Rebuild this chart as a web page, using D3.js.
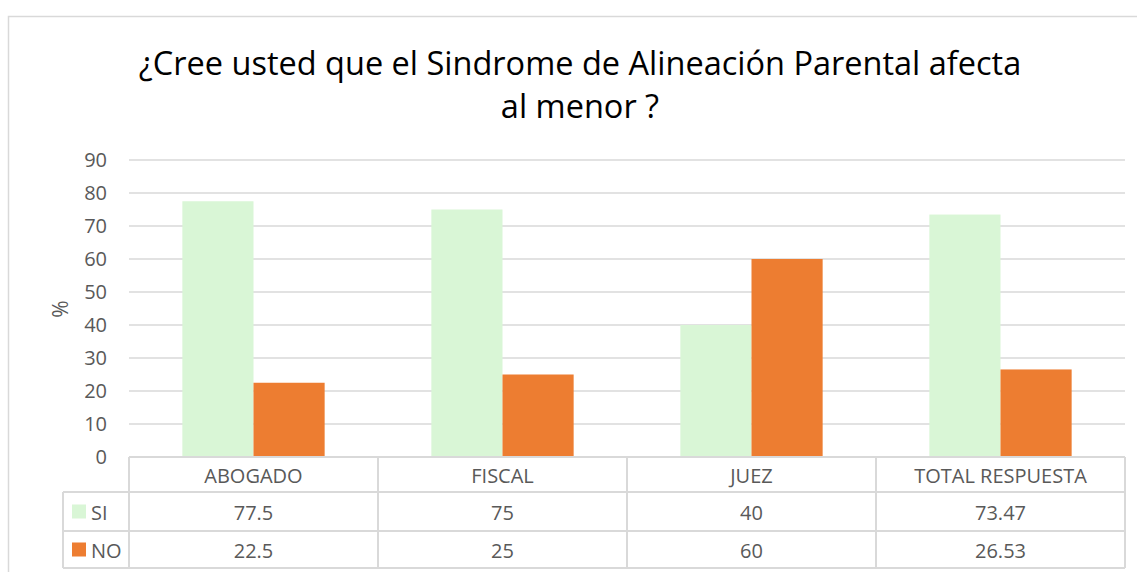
<!DOCTYPE html>
<html>
<head>
<meta charset="utf-8">
<script src="https://cdn.jsdelivr.net/npm/d3@7"></script>
<style>
  body { margin: 0; background: #fff; }
  svg text { font-family: "Open Sans", Lato, sans-serif; }
</style>
</head>
<body>
<div id="chart"></div>
<script>
// data
let categories = ['ABOGADO', 'FISCAL', 'JUEZ', 'TOTAL RESPUESTA'];
let seriesNames = ['SI', 'NO'];
let siValues = [77.5, 75, 40, 73.47];
let noValues = [22.5, 25, 60, 26.53];
let yTicks = [0, 10, 20, 30, 40, 50, 60, 70, 80, 90];
let titleLines = ['¿Cree usted que el Sindrome de Alineación Parental afecta', 'al menor ?'];

let width = 1137, height = 572;
let plot = {left: 129, right: 1125, top: 160, bottom: 457};
let rowH = [35, 39, 37];
let labelColLeft = 63;
let colors = {SI: '#D9F6D6', NO: '#ED7D31'};
let grid = '#D9D9D9';
let textCol = '#595959';

let series = [
	{name: 'SI', values: siValues},
	{name: 'NO', values: noValues}
];

let svg = d3.select('#chart')
		.append('svg')
		.attr('width', width)
		.attr('height', height);

// outer chart frame
svg.append('rect')
		.attr('x', 8.5)
		.attr('y', 16.5)
		.attr('width', width + 10)
		.attr('height', height)
		.attr('fill', 'none')
		.attr('stroke', grid)
		.attr('stroke-width', 1.5);

// title
svg.append('g')
		.selectAll('text')
		.data(titleLines)
		.enter()
		.append('text')
		.attr('x', 580)
		.attr('y', (d, i) => 75 + i * 43)
		.attr('text-anchor', 'middle')
		.attr('font-size', 32.5)
		.attr('fill', '#000')
		.text(d => d);

let xScale = d3.scaleBand()
		.domain(categories)
		.range([plot.left, plot.right]);

let xSub = d3.scaleBand()
		.domain(seriesNames)
		.range([0, xScale.bandwidth()])
		.paddingOuter(0.75);

let yScale = d3.scaleLinear()
		.domain([0, 90])
		.range([plot.bottom, plot.top]);

// gridlines
svg.append('g')
		.selectAll('line')
		.data(yTicks)
		.enter()
		.append('line')
		.attr('x1', plot.left)
		.attr('x2', plot.right)
		.attr('y1', d => yScale(d))
		.attr('y2', d => yScale(d))
		.attr('stroke', grid)
		.attr('stroke-width', 1.5);

// y axis labels
let yAxis = svg.append('g')
		.attr('transform', `translate(${plot.left - 22},0)`)
		.call(d3.axisLeft(yScale).tickValues(yTicks).tickSize(0).tickPadding(0));
yAxis.select('.domain').remove();
yAxis.selectAll('text')
		.attr('font-size', 20)
		.attr('fill', textCol)
		.attr('font-family', '"Open Sans", Lato, sans-serif');

svg.append('text')
		.attr('transform', `translate(68,309) rotate(-90)`)
		.attr('text-anchor', 'middle')
		.attr('font-size', 21)
		.attr('fill', textCol)
		.text('%');

// bars
let groups = svg.append('g')
		.selectAll('g')
		.data(series)
		.enter()
		.append('g')
		.attr('fill', d => colors[d.name]);

groups.selectAll('rect')
		.data(d => d.values.map((v, i) => ({name: d.name, cat: categories[i], v: v})))
		.enter()
		.append('rect')
		.attr('x', d => xScale(d.cat) + xSub(d.name))
		.attr('width', xSub.bandwidth())
		.attr('y', d => yScale(d.v))
		.attr('height', d => yScale(0) - yScale(d.v));

// data table
let rowY = [plot.bottom, plot.bottom + rowH[0], plot.bottom + rowH[0] + rowH[1], plot.bottom + rowH[0] + rowH[1] + rowH[2]];
let table = svg.append('g')
		.attr('stroke', grid)
		.attr('stroke-width', 2)
		.attr('fill', 'none');

// horizontal lines
table.append('line').attr('x1', plot.left).attr('x2', plot.right).attr('y1', rowY[0]).attr('y2', rowY[0]);
[1, 2, 3].forEach(r => {
	table.append('line')
			.attr('x1', labelColLeft).attr('x2', plot.right)
			.attr('y1', rowY[r]).attr('y2', rowY[r]);
});
// vertical lines
table.append('line').attr('x1', labelColLeft).attr('x2', labelColLeft).attr('y1', rowY[1]).attr('y2', rowY[3]);
categories.concat(['__end']).forEach((c, i) => {
	let x = i < categories.length ? xScale(c) : plot.right;
	table.append('line').attr('x1', x).attr('x2', x).attr('y1', rowY[0]).attr('y2', rowY[3]);
});

// header text
svg.append('g')
		.selectAll('text')
		.data(categories)
		.enter()
		.append('text')
		.attr('x', d => xScale(d) + xScale.bandwidth() / 2)
		.attr('y', (rowY[0] + rowY[1]) / 2 + 8)
		.attr('text-anchor', 'middle')
		.attr('font-size', 20)
		.attr('fill', textCol)
		.text(d => d);

// value rows
series.forEach((s, r) => {
	let yMid = (rowY[r + 1] + rowY[r + 2]) / 2;
	let row = svg.append('g');
	row.append('rect')
			.attr('x', 72)
			.attr('y', yMid - 7)
			.attr('width', 14)
			.attr('height', 14)
			.attr('fill', colors[s.name]);
	row.append('text')
			.attr('x', 91)
			.attr('y', yMid + 8)
			.attr('font-size', 20)
			.attr('fill', textCol)
			.text(s.name);
	row.selectAll('text.val')
			.data(s.values)
			.enter()
			.append('text')
			.attr('class', 'val')
			.attr('x', (d, i) => xScale(categories[i]) + xScale.bandwidth() / 2)
			.attr('y', yMid + 8)
			.attr('text-anchor', 'middle')
			.attr('font-size', 20)
			.attr('fill', textCol)
			.text(d => d);
});
</script>
</body>
</html>
